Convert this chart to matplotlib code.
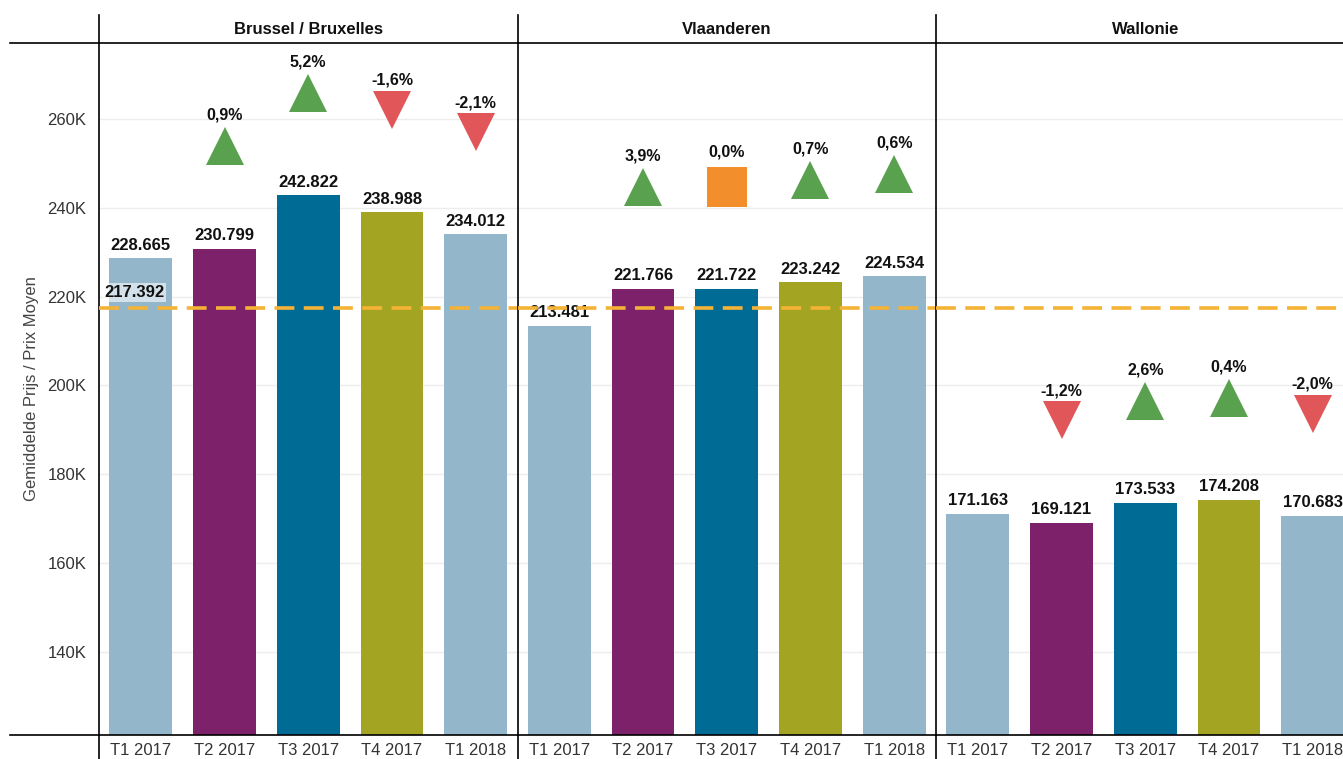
import numpy as np
import matplotlib.pyplot as plt
from matplotlib.lines import Line2D
from matplotlib.ticker import FuncFormatter

plt.rcParams['font.family'] = ['Liberation Sans', 'DejaVu Sans']

# data
regions = ['Brussel / Bruxelles', 'Vlaanderen', 'Wallonie']
quarters = ['T1 2017', 'T2 2017', 'T3 2017', 'T4 2017', 'T1 2018']
brussel = [228665, 230799, 242822, 238988, 234012]
vlaanderen = [213481, 221766, 221722, 223242, 224534]
wallonie = [171163, 169121, 173533, 174208, 170683]
gemiddelde = 217392
y_ticks = [140000, 160000, 180000, 200000, 220000, 240000, 260000]

bar_colors = ['#93B6CB', '#7E216B', '#006C96', '#A3A522', '#93B6CB']
c_up, c_down, c_flat = '#59A14F', '#E15759', '#F28E2B'

W, H = 1343, 759
def fx(px):
    return px / W
def fy(py):
    return 1 - py / H

fig = plt.figure(figsize=(W / 100, H / 100), dpi=100)
panel_w = 418.5
lefts = [99, 99 + panel_w, 99 + 2 * panel_w]
top_px, bot_px = 43, 735

x = np.arange(len(quarters))
for i, (name, vals) in enumerate(zip(regions, [brussel, vlaanderen, wallonie])):
    ax = fig.add_axes([fx(lefts[i]), fy(bot_px), panel_w / W, (bot_px - top_px) / H])
    ax.set_xlim(-0.5, 4.5)
    ax.set_ylim(121300, 277100)
    ax.set_yticks(y_ticks)
    ax.yaxis.grid(True, color='#EDEDED', lw=1)
    ax.set_axisbelow(True)
    for s in ['top', 'bottom', 'left']:
        ax.spines[s].set_color('black')
        ax.spines[s].set_linewidth(1.2)
    ax.spines['right'].set_visible(False)
    ax.tick_params(length=0, labelsize=12, colors='#333333', pad=6)
    ax.set_xticks(x)
    ax.set_xticklabels(quarters)
    if i == 0:
        ax.yaxis.set_major_formatter(FuncFormatter(lambda v, p: f'{v/1000:.0f}K'))
        ax.tick_params(axis='y', pad=9)
        ax.set_ylabel('Gemiddelde Prijs / Prix Moyen', fontsize=12, color='#444444', labelpad=6)
    else:
        ax.set_yticklabels([])

    ax.bar(x, vals, width=0.75, color=bar_colors, zorder=2)
    for xi, v in zip(x, vals):
        ax.annotate(f'{v:,}'.replace(',', '.'), (xi, v), xytext=(0, 4),
                    textcoords='offset points', ha='center', va='bottom',
                    fontsize=12, fontweight='bold', color='#111111', zorder=4)

    # change vs previous quarter
    for j in range(1, len(vals)):
        pct = (vals[j] / vals[j - 1] - 1) * 100
        lab = f'{pct:.1f}%'.replace('.', ',')
        if lab == '-0,0%':
            lab = '0,0%'
        my = vals[j] + 23000
        if lab == '0,0%':
            ax.plot(j, my, marker='s', ms=29, color=c_flat, mew=0, zorder=3)
            off = 20
        elif pct > 0:
            ax.plot(j, my, marker='^', ms=27, color=c_up, mew=0, zorder=3)
            off = 17
        else:
            ax.plot(j, my, marker='v', ms=27, color=c_down, mew=0, zorder=3)
            off = 16
        ax.annotate(lab, (j, my), xytext=(0, off), textcoords='offset points',
                    ha='center', va='bottom', fontsize=11.5, fontweight='bold',
                    color='#111111', zorder=4)

    ax.axhline(gemiddelde, color='#F5B335', lw=2.6, ls=(0, (5.5, 2.6)), zorder=5)
    if i == 0:
        ax.annotate(f'{gemiddelde:,}'.replace(',', '.'), (-0.5, gemiddelde),
                    xytext=(4, 6), textcoords='offset points', ha='left', va='bottom',
                    fontsize=12, fontweight='bold', color='#111111', zorder=6,
                    bbox=dict(boxstyle='square,pad=0.1', fc='white', ec='none', alpha=0.6))

    fig.text(fx(lefts[i] + panel_w / 2), fy(29), name, ha='center', va='center',
             fontsize=12, fontweight='bold', color='#111111')

# header / footer rules extending past the plot area
for py in [top_px, bot_px]:
    fig.add_artist(Line2D([fx(10), fx(99)], [fy(py), fy(py)], color='black', lw=1.2))
for lx in lefts:
    fig.add_artist(Line2D([fx(lx), fx(lx)], [fy(15), fy(top_px)], color='black', lw=1.2))
    fig.add_artist(Line2D([fx(lx), fx(lx)], [fy(bot_px), fy(759)], color='black', lw=1.2))

fig.savefig('out.png', dpi=100)
